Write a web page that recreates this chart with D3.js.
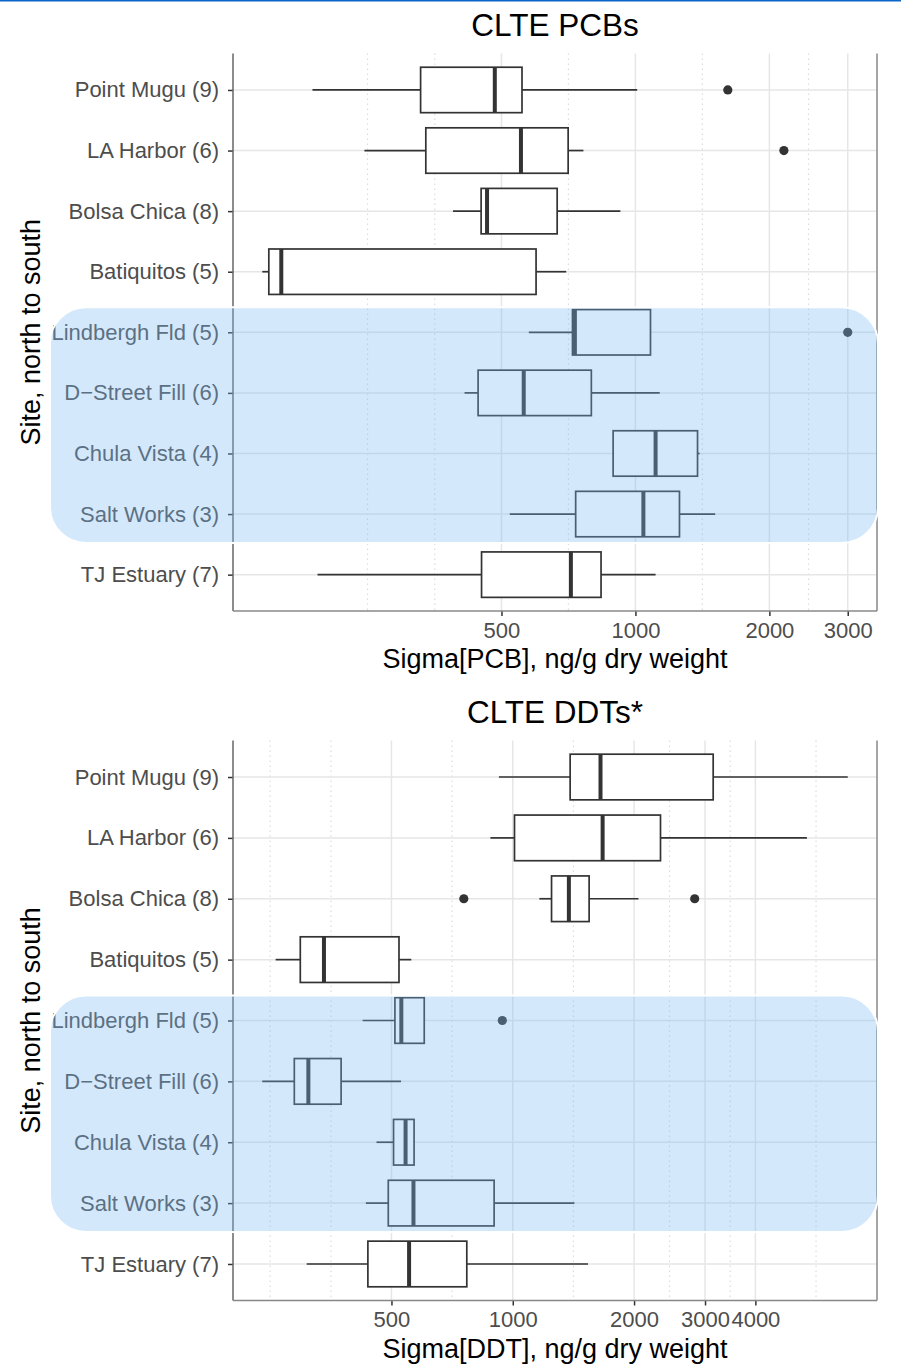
<!DOCTYPE html>
<html>
<head>
<meta charset="utf-8">
<script src="https://cdn.jsdelivr.net/npm/d3@7"></script>
<style>
  body { margin: 0; background: #fff; }
  text { font-family: "Liberation Sans", Arial, sans-serif; }
</style>
</head>
<body>
<div class="root"></div>
<script>
// sites, north to south (n in brackets)
var sites = ['Point Mugu (9)', 'LA Harbor (6)', 'Bolsa Chica (8)', 'Batiquitos (5)',
  'Lindbergh Fld (5)', 'D\u2212Street Fill (6)', 'Chula Vista (4)', 'Salt Works (3)', 'TJ Estuary (7)'];

// Sigma PCB, ng/g dry weight: whisker low, Q1, median, Q3, whisker high
var pcbLow  = [188, 246, 389, 145, 576, 413, 891, 522, 193];
var pcbQ1   = [329, 338, 450, 150, 722, 443, 891, 734, 451];
var pcbMed  = [483, 553, 464, 160, 731, 561, 1110, 1042, 716];
var pcbQ3   = [556, 706, 667, 598, 1081, 796, 1379, 1256, 837];
var pcbHigh = [1009, 764, 925, 699, 1081, 1134, 1394, 1511, 1110];
var pcbOutliers = [['Point Mugu (9)', 1613], ['LA Harbor (6)', 2156], ['Lindbergh Fld (5)', 3000]];
var pcbTicks = [500, 1000, 2000, 3000];
var pcbMinor = [250, 354, 707, 1414, 2449];

// Sigma DDT, ng/g dry weight
var ddtLow  = [924, 880, 1164, 258, 424, 239, 459, 432, 308];
var ddtQ1   = [1388, 1010, 1248, 297, 510, 287, 506, 491, 437];
var ddtMed  = [1651, 1671, 1378, 340, 529, 311, 542, 567, 553];
var ddtQ3   = [3143, 2326, 1547, 522, 603, 375, 569, 899, 769];
var ddtHigh = [6780, 5370, 2051, 560, 603, 528, 569, 1422, 1537];
var ddtOutliers = [['Bolsa Chica (8)', 756], ['Bolsa Chica (8)', 2828], ['Lindbergh Fld (5)', 942]];
var ddtTicks = [500, 1000, 2000, 3000, 4000];
var ddtMinor = [250, 354, 707, 1414, 2449, 3464, 5657, 8000];

// highlighted group (San Diego Bay)
var highlightFrom = 'Lindbergh Fld (5)';
var highlightTo = 'Salt Works (3)';

function drawPanel(svg, p) {
  var left = 233, right = 877;
  var g = svg.append('g');

  var all = p.low.concat(p.high, p.outliers.map(function(d) { return d[1]; }));
  var lo = Math.log10(d3.min(all)), hi = Math.log10(d3.max(all));
  var pad = (hi - lo) * 0.05;
  var x = d3.scaleLog()
    .domain([Math.pow(10, lo - pad), Math.pow(10, hi + pad)])
    .range([left, right]);
  var y = d3.scalePoint()
    .domain(sites)
    .range([p.top, p.bottom])
    .padding(0.6);
  var step = y.step();
  var bh = step * 0.375;

  // grid
  g.append('g').selectAll('line')
    .data(p.minor.filter(function(v) { return x(v) > left + 2 && x(v) < right - 2; }))
    .enter().append('line')
      .attr('x1', function(d) { return x(d); })
      .attr('x2', function(d) { return x(d); })
      .attr('y1', p.top).attr('y2', p.bottom)
      .attr('stroke', '#dcdcdc').attr('stroke-width', 1.2)
      .attr('stroke-dasharray', '1.5,3.5');
  g.append('g').selectAll('line')
    .data(p.ticks)
    .enter().append('line')
      .attr('x1', function(d) { return x(d); })
      .attr('x2', function(d) { return x(d); })
      .attr('y1', p.top).attr('y2', p.bottom)
      .attr('stroke', '#e6e6e6').attr('stroke-width', 1.5);
  g.append('g').selectAll('line')
    .data(sites)
    .enter().append('line')
      .attr('x1', left).attr('x2', right)
      .attr('y1', function(d) { return y(d); })
      .attr('y2', function(d) { return y(d); })
      .attr('stroke', '#e6e6e6').attr('stroke-width', 1.5);

  // boxes
  var boxes = g.append('g').selectAll('g')
    .data(sites)
    .enter().append('g');
  boxes.append('line')
    .attr('x1', function(d, i) { return x(p.low[i]); })
    .attr('x2', function(d, i) { return x(p.q1[i]); })
    .attr('y1', function(d) { return y(d); })
    .attr('y2', function(d) { return y(d); });
  boxes.append('line')
    .attr('x1', function(d, i) { return x(p.q3[i]); })
    .attr('x2', function(d, i) { return x(p.high[i]); })
    .attr('y1', function(d) { return y(d); })
    .attr('y2', function(d) { return y(d); });
  boxes.selectAll('line')
    .attr('stroke', '#333').attr('stroke-width', 1.7);
  boxes.append('rect')
    .attr('x', function(d, i) { return x(p.q1[i]); })
    .attr('width', function(d, i) { return x(p.q3[i]) - x(p.q1[i]); })
    .attr('y', function(d) { return y(d) - bh; })
    .attr('height', bh * 2)
    .attr('fill', '#fff').attr('stroke', '#333').attr('stroke-width', 1.7);
  boxes.append('line')
    .attr('x1', function(d, i) { return x(p.med[i]); })
    .attr('x2', function(d, i) { return x(p.med[i]); })
    .attr('y1', function(d) { return y(d) - bh; })
    .attr('y2', function(d) { return y(d) + bh; })
    .attr('stroke', '#333').attr('stroke-width', 4);

  g.append('g').selectAll('circle')
    .data(p.outliers)
    .enter().append('circle')
      .attr('cx', function(d) { return x(d[1]); })
      .attr('cy', function(d) { return y(d[0]); })
      .attr('r', 4.6)
      .attr('fill', '#333');

  // axes
  var xAxis = g.append('g')
    .attr('transform', 'translate(0,' + p.bottom + ')')
    .call(d3.axisBottom(x).tickValues(p.ticks).tickFormat(d3.format('d'))
      .tickSize(5).tickPadding(6));
  var yAxis = g.append('g')
    .attr('transform', 'translate(' + left + ',0)')
    .call(d3.axisLeft(y).tickSize(5).tickPadding(9));
  [xAxis, yAxis].forEach(function(a) {
    a.select('.domain').remove();
    a.selectAll('.tick line').attr('stroke', '#333').attr('stroke-width', 1.5);
    a.selectAll('.tick text').attr('fill', '#4d4d4d').style('font-size', '22px');
  });

  // panel lines
  g.append('line').attr('x1', left).attr('x2', left).attr('y1', p.top).attr('y2', p.bottom)
    .attr('stroke', '#666').attr('stroke-width', 1.5);
  g.append('line').attr('x1', right).attr('x2', right).attr('y1', p.top).attr('y2', p.bottom)
    .attr('stroke', '#888').attr('stroke-width', 1.5);
  g.append('line').attr('x1', left).attr('x2', right).attr('y1', p.bottom).attr('y2', p.bottom)
    .attr('stroke', '#888').attr('stroke-width', 1.5);

  // titles
  var cx = (left + right) / 2;
  g.append('text').attr('x', cx).attr('y', p.top - 18)
    .attr('text-anchor', 'middle').style('font-size', '31.5px').attr('fill', '#000')
    .text(p.title);
  g.append('text').attr('x', cx).attr('y', p.bottom + 57)
    .attr('text-anchor', 'middle').style('font-size', '27px').attr('fill', '#000')
    .text(p.xTitle);
  g.append('text')
    .attr('transform', 'translate(40,' + ((p.top + p.bottom) / 2) + ') rotate(-90)')
    .attr('text-anchor', 'middle').style('font-size', '27px').attr('fill', '#000')
    .text('Site, north to south');

  // highlight
  g.append('rect')
    .attr('x', 50).attr('width', 828)
    .attr('y', y(highlightFrom) - 25)
    .attr('height', y(highlightTo) - y(highlightFrom) + 54)
    .attr('rx', 36).attr('ry', 36)
    .attr('fill', 'rgb(124,185,242)').attr('fill-opacity', 0.33)
    .attr('stroke', '#fff').attr('stroke-width', 2);
}

function runChart() {
  var svg = d3.select('.root').append('svg')
    .attr('width', 901)
    .attr('height', 1364)
    .style('display', 'block');
  svg.append('rect').attr('width', 901).attr('height', 1364).attr('fill', '#fff');
  svg.append('rect').attr('width', 901).attr('height', 1.5).attr('fill', '#0a66c8');

  drawPanel(svg, {
    top: 53.6, bottom: 611, title: 'CLTE PCBs', xTitle: 'Sigma[PCB], ng/g dry weight',
    low: pcbLow, q1: pcbQ1, med: pcbMed, q3: pcbQ3, high: pcbHigh,
    outliers: pcbOutliers, ticks: pcbTicks, minor: pcbMinor
  });
  drawPanel(svg, {
    top: 740.5, bottom: 1300.5, title: 'CLTE DDTs*', xTitle: 'Sigma[DDT], ng/g dry weight',
    low: ddtLow, q1: ddtQ1, med: ddtMed, q3: ddtQ3, high: ddtHigh,
    outliers: ddtOutliers, ticks: ddtTicks, minor: ddtMinor
  });
}

window.onload = function() {
  runChart();
};
</script>
</body>
</html>
